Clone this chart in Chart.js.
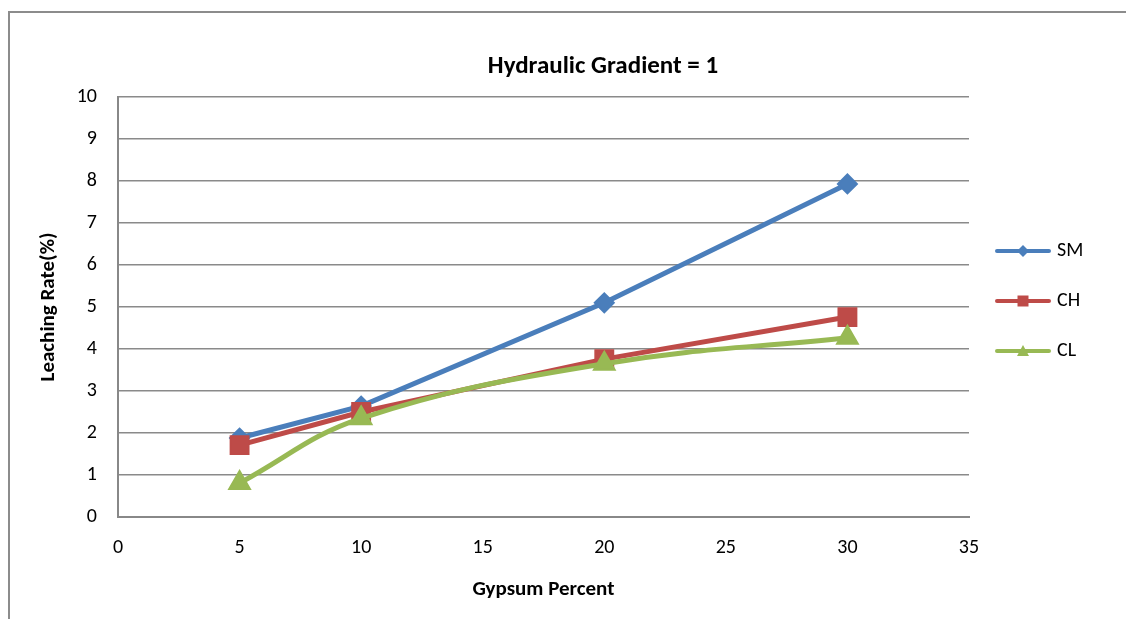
<!DOCTYPE html>
<html>
<head>
<meta charset="utf-8">
<script src="https://cdn.jsdelivr.net/npm/chart.js@4/dist/chart.umd.min.js"></script>
<style>
  html, body { margin: 0; padding: 0; background: #fff; overflow: hidden; }
  canvas { display: block; }
</style>
</head>
<body>
<canvas id="leachChart" width="1206" height="619"></canvas>
<script>
// gypsum percent on the x axis
const gypsumPercent = [5, 10, 20, 30];
// leaching rate (%) per soil type
const smValues = [1.88, 2.64, 5.1, 7.93];
const chValues = [1.71, 2.5, 3.76, 4.76];
const clValues = [0.81, 2.35, 3.65, 4.27];
const seriesNames = ['SM', 'CH', 'CL'];
const xTicks = [0, 5, 10, 15, 20, 25, 30, 35];
const yTicks = [0, 1, 2, 3, 4, 5, 6, 7, 8, 9, 10];

const colors = ['#4A7EBB', '#BE4B48', '#98B954'];
const FONT = 'Carlito, Lato, sans-serif';

Chart.defaults.font.family = FONT;
Chart.defaults.color = '#000';

function toPoints(values) {
    return values.map((v, i) => ({ x: gypsumPercent[i], y: v }));
}

// small line+marker pictures for the legend
function legendSymbol(color, shape) {
    const c = document.createElement('canvas');
    c.width = 58;
    c.height = 14;
    const g = c.getContext('2d');
    g.strokeStyle = color;
    g.fillStyle = color;
    g.lineWidth = 4;
    g.lineCap = 'round';
    g.beginPath();
    g.moveTo(3, 7);
    g.lineTo(55, 7);
    g.stroke();
    g.beginPath();
    if (shape === 'diamond') {
        g.moveTo(29, 1); g.lineTo(35, 7); g.lineTo(29, 13); g.lineTo(23, 7);
    } else if (shape === 'square') {
        g.rect(23.5, 1.5, 11, 11);
    } else {
        g.moveTo(29, 1); g.lineTo(35, 12); g.lineTo(23, 12);
    }
    g.closePath();
    g.fill();
    return c;
}
const legendSymbols = [
    legendSymbol(colors[0], 'diamond'),
    legendSymbol(colors[1], 'square'),
    legendSymbol(colors[2], 'triangle')
];

const outerBorder = {
    id: 'outerBorder',
    beforeDraw(chart) {
        const ctx = chart.ctx;
        ctx.save();
        ctx.fillStyle = '#fff';
        ctx.fillRect(0, 0, chart.width, chart.height);
        ctx.strokeStyle = '#8c8c8c';
        ctx.lineWidth = 2;
        ctx.strokeRect(9, 12, 1400, 800);
        ctx.restore();
    }
};

// keep the legend column a fixed width so the plot ends where the reference does
const legendWidth = {
    id: 'legendWidth',
    beforeLayout(chart) {
        const lg = chart.legend;
        if (lg && !lg._fixedWidth) {
            const fit = lg.fit;
            lg.fit = function () {
                fit.call(this);
                this.width = 237;
            };
            lg._fixedWidth = true;
        }
    }
};

const ctx = document.getElementById('leachChart').getContext('2d');
const leachChart = new Chart(ctx, {
    type: 'line',
    data: {
        datasets: [
            {
                label: seriesNames[0],
                data: toPoints(smValues),
                borderColor: colors[0],
                backgroundColor: colors[0],
                borderWidth: 5,
                pointStyle: 'rectRot',
                pointRadius: 9.5,
                pointBorderWidth: 2,
                tension: 0,
                order: 3
            },
            {
                label: seriesNames[1],
                data: toPoints(chValues),
                borderColor: colors[1],
                backgroundColor: colors[1],
                borderWidth: 5,
                pointStyle: 'rect',
                pointRadius: 13,
                pointBorderWidth: 1.5,
                tension: 0,
                order: 2
            },
            {
                label: seriesNames[2],
                data: toPoints(clValues),
                borderColor: colors[2],
                backgroundColor: colors[2],
                borderWidth: 5,
                pointStyle: 'triangle',
                pointRadius: 12,
                pointBorderWidth: 2,
                tension: 0.4,
                order: 1
            }
        ]
    },
    options: {
        responsive: false,
        animation: false,
        devicePixelRatio: 1,
        layout: {
            padding: { left: 0, right: 0, top: 0, bottom: 17 }
        },
        plugins: {
            title: {
                display: true,
                text: 'Hydraulic Gradient = 1',
                color: '#000',
                font: { size: 25, weight: 'bold', lineHeight: 1.2 },
                padding: { top: 52, bottom: 15 }
            },
            legend: {
                position: 'right',
                labels: {
                    usePointStyle: true,
                    pointStyleWidth: 48,
                    padding: 30,
                    font: { size: 20 },
                    color: '#000',
                    generateLabels(chart) {
                        return chart.data.datasets.map((ds, i) => ({
                            text: ds.label,
                            pointStyle: legendSymbols[i],
                            fillStyle: ds.borderColor,
                            strokeStyle: ds.borderColor,
                            lineWidth: 0,
                            hidden: false,
                            datasetIndex: i,
                            fontColor: '#000'
                        }));
                    }
                }
            },
            tooltip: { enabled: false }
        },
        scales: {
            x: {
                type: 'linear',
                min: 0,
                max: 35,
                afterFit(scale) { scale.height = 85; },
                afterBuildTicks(scale) { scale.ticks = xTicks.map(v => ({ value: v })); },
                grid: { display: false, drawTicks: false },
                border: { display: true, color: '#888', width: 2 },
                ticks: { padding: 19, font: { size: 20 }, color: '#000' },
                title: {
                    display: true,
                    text: 'Gypsum Percent',
                    font: { size: 21, weight: 'bold', lineHeight: 1.2 },
                    color: '#000',
                    padding: { top: 0, bottom: 0 }
                }
            },
            y: {
                min: 0,
                max: 10,
                afterFit(scale) { scale.width = 118; },
                afterBuildTicks(scale) { scale.ticks = yTicks.map(v => ({ value: v })); },
                grid: { color: '#8a8a8a', lineWidth: 1.5, drawTicks: false },
                border: { display: true, color: '#888', width: 2 },
                ticks: { padding: 21, font: { size: 20 }, color: '#000' },
                title: {
                    display: true,
                    text: 'Leaching Rate(%)',
                    font: { size: 21, weight: 'bold', lineHeight: 1.2 },
                    color: '#000',
                    padding: { top: 36, bottom: 0 }
                }
            }
        }
    },
    plugins: [outerBorder, legendWidth]
});
</script>
</body>
</html>
